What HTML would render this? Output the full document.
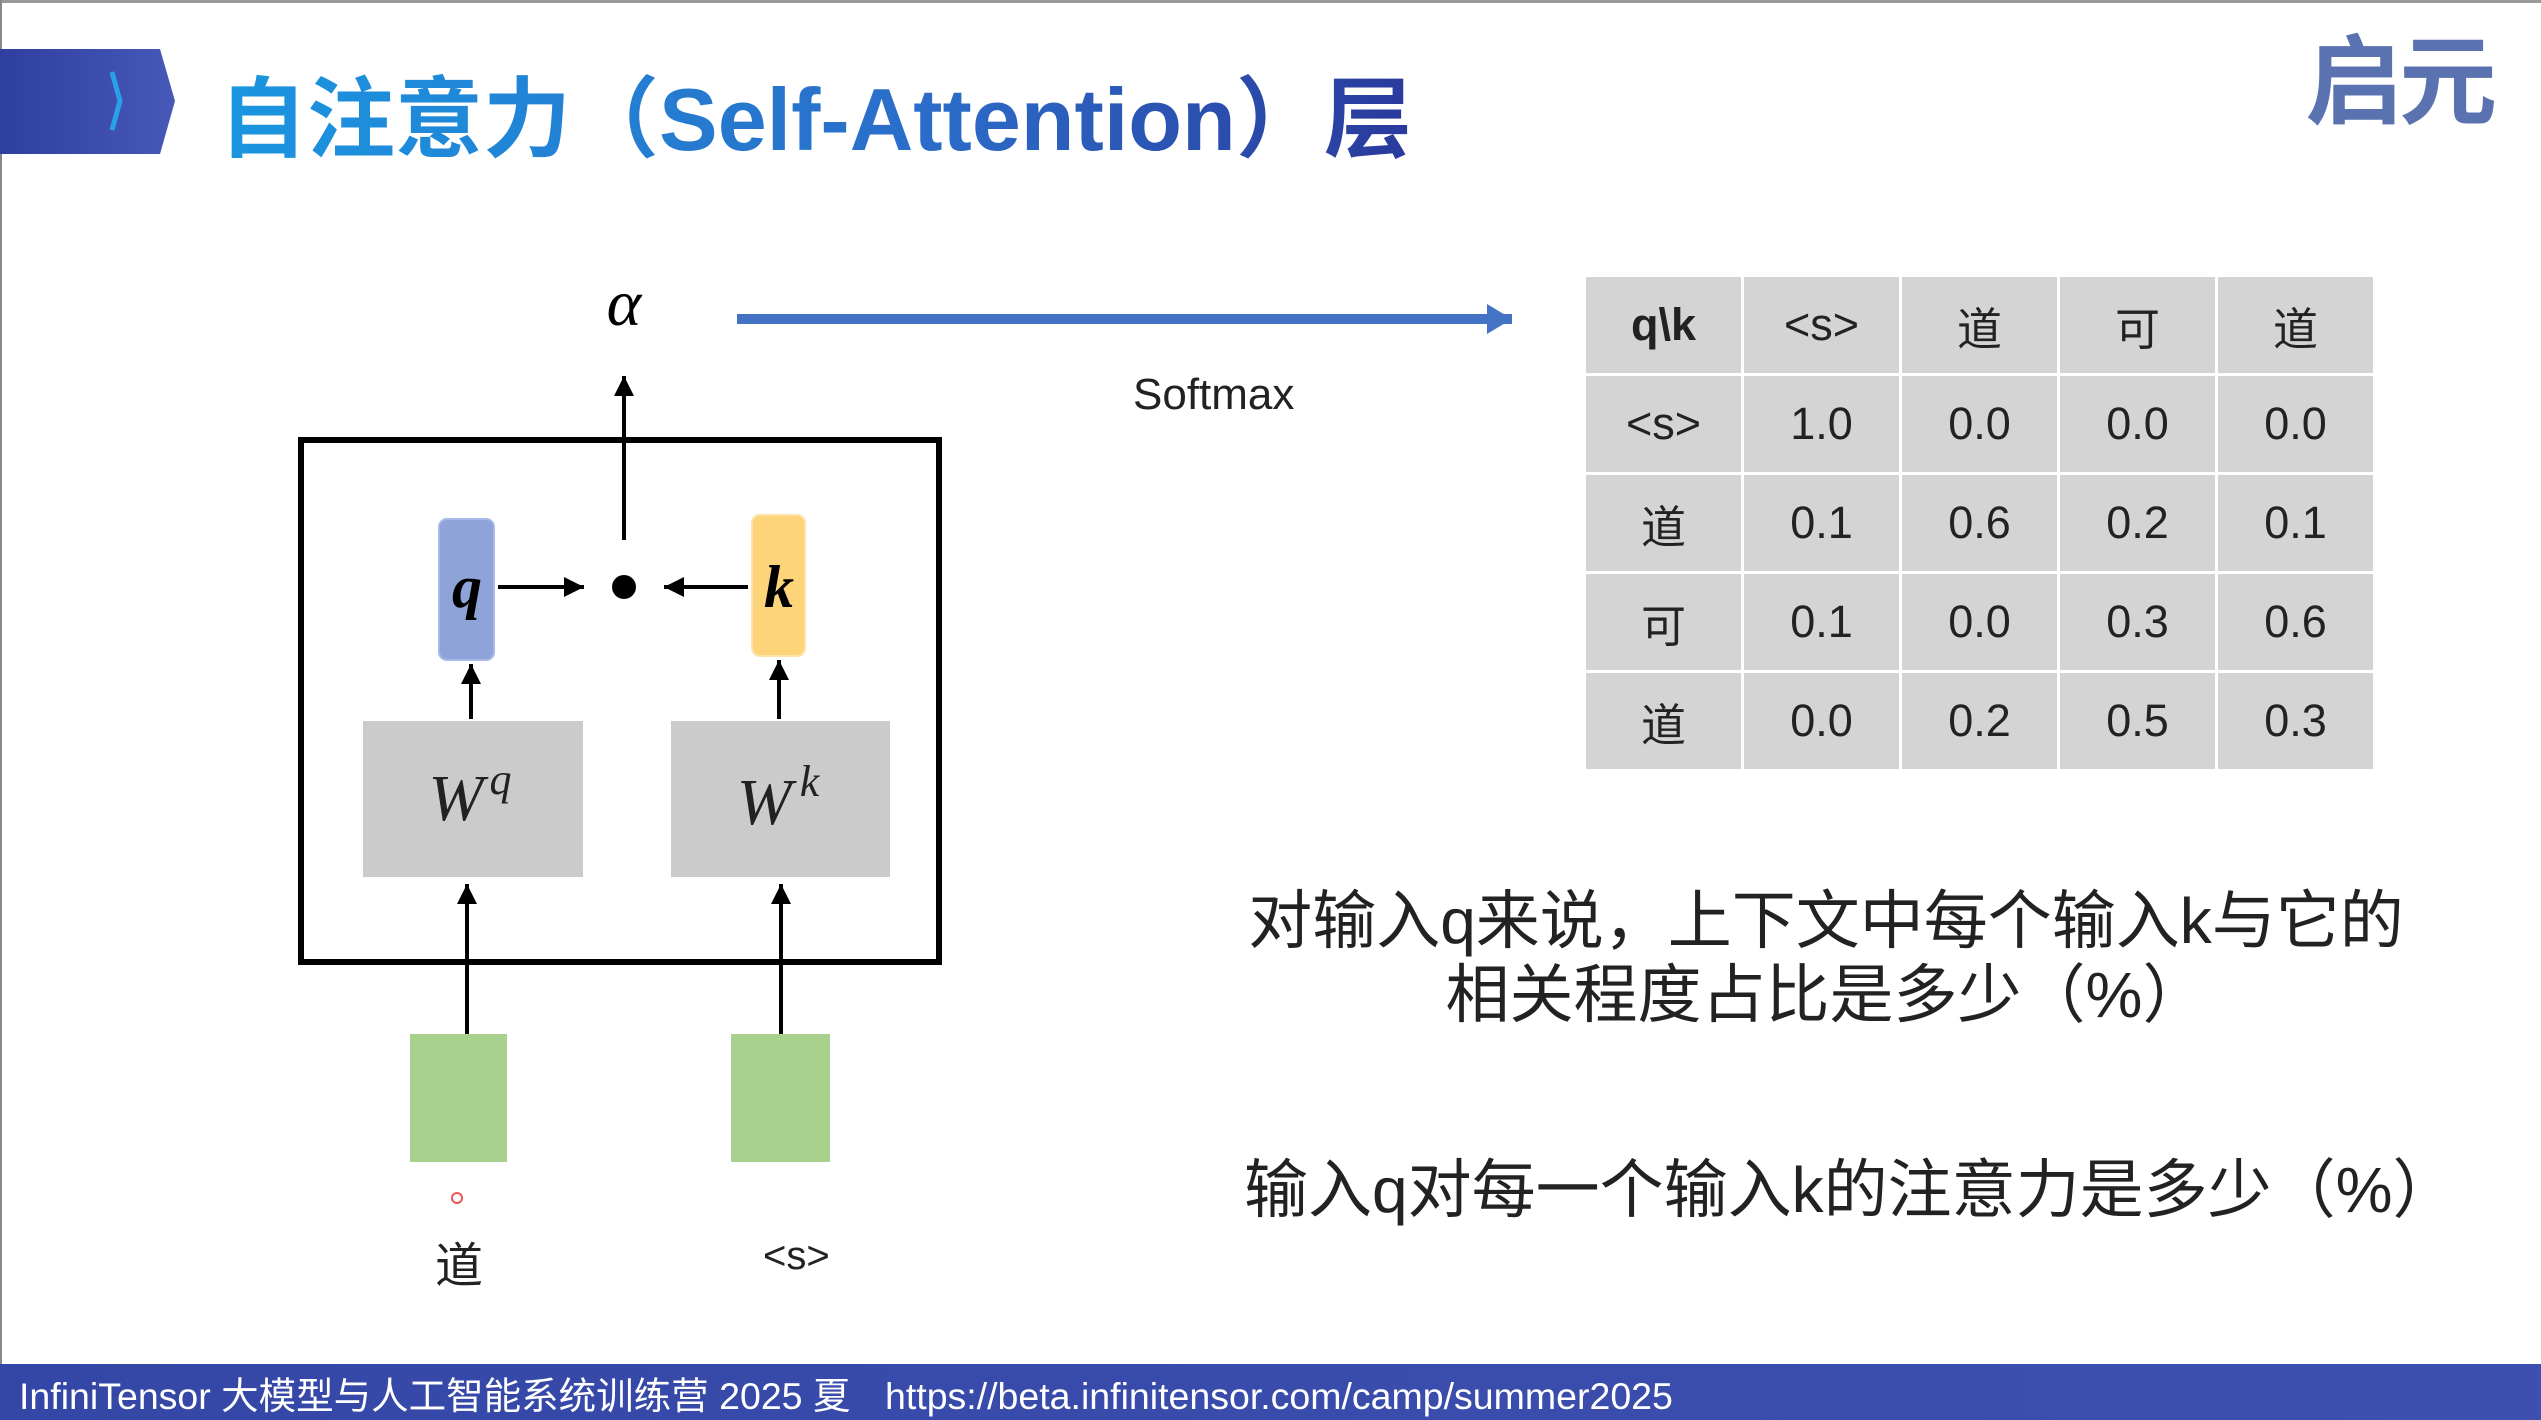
<!DOCTYPE html>
<html><head><meta charset="utf-8"><style>
html,body{margin:0;padding:0}
body{width:2541px;height:1420px;position:relative;overflow:hidden;background:#fff;font-family:"Liberation Sans","Noto Sans CJK SC",sans-serif}
.a{position:absolute;white-space:nowrap}
table{position:absolute;left:1583px;top:274px;border-collapse:collapse}
td{width:155px;height:96px;background:#d4d4d4;border:3px solid #fff;text-align:center;font-size:45px;color:#222;padding:0}
</style></head><body>
<div class="a" style="left:0;top:0;width:2541px;height:3px;background:#999"></div>
<div class="a" style="left:0;top:0;width:2px;height:1420px;background:#888"></div>
<svg class="a" style="left:0;top:0" width="2541" height="1420">
<defs><linearGradient id="g" x1="0" x2="1"><stop offset="0" stop-color="#2f3fa0"/><stop offset="1" stop-color="#4658b8"/></linearGradient>
<marker id="ar" markerWidth="6" markerHeight="6" refX="5" refY="3" orient="auto" markerUnits="strokeWidth"><path d="M0,0.5 L5,3 L0,5.5 z" fill="#000"/></marker>
<marker id="ab" markerWidth="3" markerHeight="3" refX="2.5" refY="1.5" orient="auto" markerUnits="strokeWidth"><path d="M0,0 L2.5,1.5 L0,3 z" fill="#4472c4"/></marker></defs>
<polygon points="0,49 160,49 175,101 160,154 0,154" fill="url(#g)"/>
<path d="M112,72 L120,101 L112,130" stroke="#2aa0e8" stroke-width="5" fill="none"/>
<rect x="301" y="440" width="638" height="522" fill="none" stroke="#000" stroke-width="6"/>
<line x1="737" y1="319" x2="1512" y2="319" stroke="#4472c4" stroke-width="10" marker-end="url(#ab)"/>
<rect x="439" y="519" width="55" height="141" rx="8" fill="#8ea3d8" stroke="#a6b8e8" stroke-width="2"/>
<rect x="752" y="515" width="53" height="141" rx="8" fill="#fdd47a" stroke="#fde3a6" stroke-width="2"/>
<circle cx="624" cy="587" r="12" fill="#000"/>
<line x1="624" y1="540" x2="624" y2="376" stroke="#000" stroke-width="4" marker-end="url(#ar)"/>
<line x1="498" y1="587" x2="584" y2="587" stroke="#000" stroke-width="4" marker-end="url(#ar)"/>
<line x1="748" y1="587" x2="664" y2="587" stroke="#000" stroke-width="4" marker-end="url(#ar)"/>
<rect x="363" y="721" width="220" height="156" fill="#cbcbcb"/>
<rect x="671" y="721" width="219" height="156" fill="#cbcbcb"/>
<line x1="471" y1="719" x2="471" y2="664" stroke="#000" stroke-width="4" marker-end="url(#ar)"/>
<line x1="779" y1="719" x2="779" y2="660" stroke="#000" stroke-width="4" marker-end="url(#ar)"/>
<rect x="410" y="1034" width="97" height="128" fill="#a9d18e"/>
<rect x="731" y="1034" width="99" height="128" fill="#a9d18e"/>
<line x1="467" y1="1034" x2="467" y2="884" stroke="#000" stroke-width="4" marker-end="url(#ar)"/>
<line x1="781" y1="1034" x2="781" y2="884" stroke="#000" stroke-width="4" marker-end="url(#ar)"/>
<circle cx="457" cy="1198" r="5" fill="none" stroke="#e55" stroke-width="2"/>
<text x="624" y="325" font-family="Liberation Serif,serif" font-style="italic" font-size="66" text-anchor="middle">α</text>
<text x="467" y="607" font-family="Liberation Serif,serif" font-style="italic" font-weight="bold" font-size="60" text-anchor="middle">q</text>
<text x="779" y="607" font-family="Liberation Serif,serif" font-style="italic" font-weight="bold" font-size="60" text-anchor="middle">k</text>
<text x="470" y="820" font-family="Liberation Serif,serif" font-style="italic" font-size="66" text-anchor="middle" fill="#222">W<tspan dx="6" dy="-26" font-size="44">q</tspan></text>
<text x="778" y="824" font-family="Liberation Serif,serif" font-style="italic" font-size="66" text-anchor="middle" fill="#222">W<tspan dx="8" dy="-28" font-size="44">k</tspan></text>
</svg>
<div class="a" style="left:219px;top:70px;font-size:88px;font-weight:bold;line-height:100px;background:linear-gradient(90deg,#1a96e0,#2b6cc8 60%,#2a3a9c);-webkit-background-clip:text;color:transparent">自注意力（Self-Attention）层</div>
<div class="a" style="left:2305px;top:22px;font-size:98px;font-weight:bold;color:#5a72b0;letter-spacing:-4px;line-height:120px">启元</div>
<div class="a" style="left:1133px;top:370px;font-size:44px;color:#222">Softmax</div>
<table>
<tr><td><b>q\k</b></td><td>&lt;s&gt;</td><td>道</td><td>可</td><td>道</td></tr>
<tr><td>&lt;s&gt;</td><td>1.0</td><td>0.0</td><td>0.0</td><td>0.0</td></tr>
<tr><td>道</td><td>0.1</td><td>0.6</td><td>0.2</td><td>0.1</td></tr>
<tr><td>可</td><td>0.1</td><td>0.0</td><td>0.3</td><td>0.6</td></tr>
<tr><td>道</td><td>0.0</td><td>0.2</td><td>0.5</td><td>0.3</td></tr>
</table>
<div class="a" style="left:1226px;top:884px;width:1200px;text-align:center;font-size:64px;line-height:74px;color:#222">对输入q来说，上下文中每个输入k与它的<br>相关程度占比是多少（%）</div>
<div class="a" style="left:1244px;top:1139px;font-size:64px;color:#222">输入q对每一个输入k的注意力是多少（%）</div>
<div class="a" style="left:435px;top:1226px;font-size:48px;color:#222">道</div>
<div class="a" style="left:763px;top:1234px;font-size:40px;color:#222">&lt;s&gt;</div>
<div class="a" style="left:0;top:1364px;width:2541px;height:56px;background:linear-gradient(90deg,#3547a6,#3d50b0)"></div>
<div class="a" style="left:19px;top:1374px;font-size:37.5px;color:#fff;line-height:44px">InfiniTensor 大模型与人工智能系统训练营 2025 夏</div>
<div class="a" style="left:885px;top:1374px;font-size:37.5px;color:#fff;line-height:44px">https://beta.infinitensor.com/camp/summer2025</div>
</body></html>
